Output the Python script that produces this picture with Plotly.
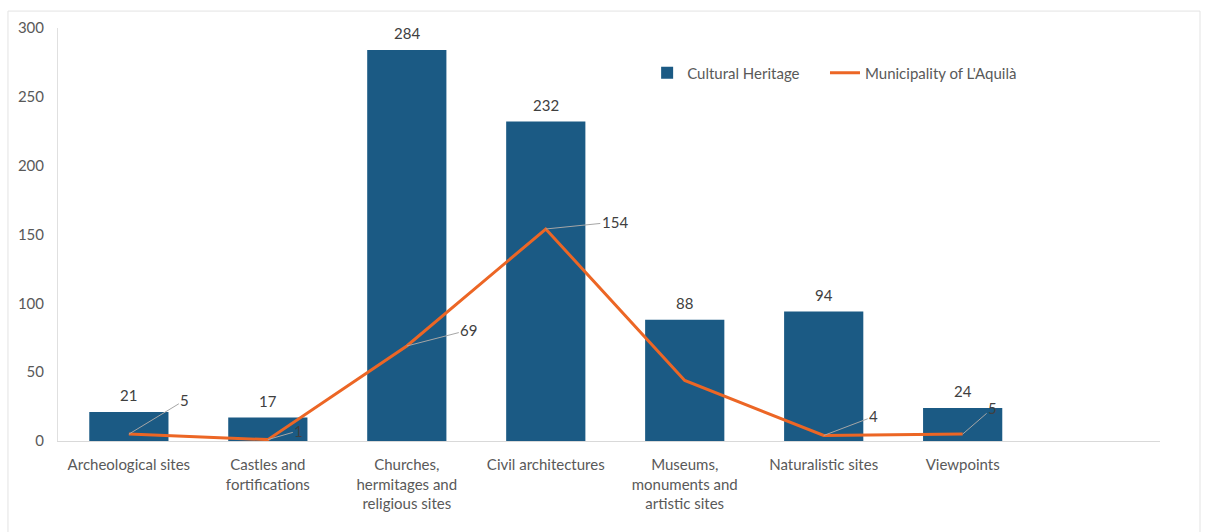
import plotly.graph_objects as go

categories = ["Archeological sites", "Castles and<br>fortifications",
              "Churches,<br>hermitages and<br>religious sites", "Civil architectures",
              "Museums,<br>monuments and<br>artistic sites", "Naturalistic sites", "Viewpoints"]
cultural_heritage = [21, 17, 284, 232, 88, 94, 24]
municipality = [5, 1, 69, 154, 44, 4, 5]
municipality_labels = ["5", "1", "69", "154", None, "4", "5"]
y_ticks = [0, 50, 100, 150, 200, 250, 300]

label_offsets = [(56, -34), (31, -9), (62, -16), (69, -7), None, (50, -19), (30, -26)]

BLUE = "#1b5a84"
ORANGE = "#ec6625"
TEXT = "#595959"
FONT = "Lato, Open Sans, sans-serif"
FS = 15

x = list(range(len(categories)))

fig = go.Figure()
fig.add_trace(go.Bar(
    x=x, y=cultural_heritage, name="Cultural Heritage",
    marker=dict(color=BLUE, line=dict(width=0)), width=0.57, legend="legend",
))
fig.add_trace(go.Scatter(
    x=x, y=municipality, name="Municipality of L'Aquilà", mode="lines",
    line=dict(color=ORANGE, width=3), legend="legend2",
))

for xi, v in zip(x, cultural_heritage):
    fig.add_annotation(
        x=xi, y=v, text=str(v), showarrow=False, yanchor="bottom", yshift=6,
        font=dict(color="#404040", size=FS, family=FONT),
    )

for xi, yi, lab, off in zip(x, municipality, municipality_labels, label_offsets):
    if lab is None:
        continue
    fig.add_annotation(
        x=xi, y=yi, text=lab, showarrow=True, arrowhead=0, arrowwidth=1,
        arrowcolor="#a6a6a6", ax=off[0], ay=off[1], standoff=0,
        font=dict(color="#404040", size=FS, family=FONT),
    )

fig.add_shape(type="rect", xref="paper", yref="paper",
              x0=-0.0454, x1=1.0363, y0=-0.3, y1=1.041,
              line=dict(color="#e3e3e3", width=1), layer="below")

legend_style = dict(orientation="h", y=0.891, xanchor="left", yanchor="middle",
                    font=dict(size=FS, color=TEXT), bgcolor="rgba(0,0,0,0)")

fig.update_layout(
    width=1205, height=532,
    margin=dict(l=58, r=45, t=28, b=91),
    paper_bgcolor="white", plot_bgcolor="white",
    font=dict(family=FONT, color=TEXT, size=FS),
    showlegend=True,
    legend=dict(x=0.5346, **legend_style),
    legend2=dict(x=0.696, **legend_style),
)
fig.update_xaxes(
    range=[-0.51, 7.42], tickmode="array", tickvals=x, ticktext=categories,
    showgrid=False, showline=True, linecolor="#d9d9d9", linewidth=1,
    ticks="", ticklabelstandoff=10, tickfont=dict(size=FS, color=TEXT), zeroline=False,
)
fig.update_yaxes(
    range=[0, 300], tickmode="array", tickvals=y_ticks,
    showgrid=False, showline=True, linecolor="#e0e0e0", linewidth=1,
    ticks="", ticklabelstandoff=10, tickfont=dict(size=FS, color=TEXT), zeroline=False,
)

fig.write_html("out.html")
